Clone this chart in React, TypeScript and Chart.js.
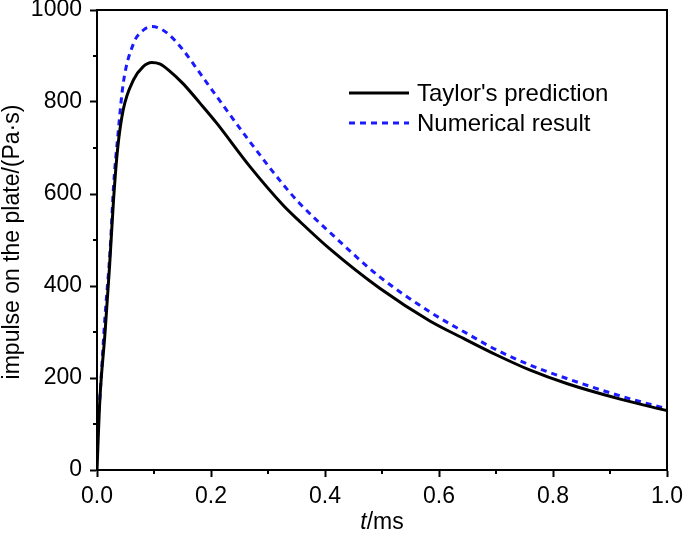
import React, { useEffect, useRef } from "react";
import { Chart, registerables } from "chart.js";

Chart.register(...registerables);

const taylorT = [0, 0.005, 0.014, 0.022, 0.029, 0.036, 0.046, 0.064, 0.081, 0.096, 0.11, 0.125, 0.151, 0.181, 0.21, 0.268, 0.327, 0.356, 0.409, 0.496, 0.584, 0.643, 0.701, 0.76, 0.824, 0.918, 1.0];
const taylorV = [0, 152, 297, 442, 587, 696, 783, 848, 877, 886, 883, 870, 840, 797, 754, 660, 575, 540, 480, 395, 324, 286, 250, 217, 188, 154, 129];

const numT = [0.001, 0.003, 0.014, 0.023, 0.029, 0.037, 0.046, 0.064, 0.081, 0.096, 0.11, 0.125, 0.151, 0.181, 0.21, 0.268, 0.327, 0.356, 0.409, 0.496, 0.59, 0.643, 0.701, 0.76, 0.824, 0.918, 1.0];
const numV = [105, 125, 333, 478, 616, 732, 840, 927, 956, 964, 960, 948, 913, 862, 812, 714, 620, 579, 516, 420, 339, 301, 261, 228, 199, 161, 133];

const seriesLabels = ["Taylor's prediction", "Numerical result"];
const xMinorTicks = [0.1, 0.3, 0.5, 0.7, 0.9];
const yMinorTicks = [100, 300, 500, 700, 900];
const yTitle = "impulse on the plate/(Pa·s)";

const FONT = "'Liberation Sans', Arial, sans-serif";

const decorPlugin = {
  id: "decor",
  afterDraw(chart: any) {
    const { ctx, chartArea } = chart;
    const xs = chart.scales.x;
    const ys = chart.scales.y;
    ctx.save();
    // frame
    ctx.strokeStyle = "#000";
    ctx.lineWidth = 2;
    ctx.strokeRect(chartArea.left, chartArea.top, chartArea.right - chartArea.left, chartArea.bottom - chartArea.top);
    // minor ticks
    ctx.beginPath();
    xMinorTicks.forEach((v) => {
      const px = Math.round(xs.getPixelForValue(v));
      ctx.moveTo(px, chartArea.bottom);
      ctx.lineTo(px, chartArea.bottom + 4);
    });
    yMinorTicks.forEach((v) => {
      const py = Math.round(ys.getPixelForValue(v));
      ctx.moveTo(chartArea.left - 4, py);
      ctx.lineTo(chartArea.left, py);
    });
    ctx.stroke();

    // y title
    ctx.fillStyle = "#000";
    ctx.font = `23px ${FONT}`;
    ctx.textAlign = "center";
    ctx.textBaseline = "middle";
    ctx.save();
    ctx.translate(13, 242);
    ctx.rotate(-Math.PI / 2);
    ctx.fillText(yTitle, 0, 0);
    ctx.restore();

    // x title: italic t + /ms
    const cx = (chartArea.left + chartArea.right) / 2;
    ctx.font = `italic 23px ${FONT}`;
    const w1 = ctx.measureText("t").width;
    ctx.font = `23px ${FONT}`;
    const w2 = ctx.measureText("/ms").width;
    const start = cx - (w1 + w2) / 2;
    ctx.textAlign = "left";
    ctx.textBaseline = "alphabetic";
    ctx.font = `italic 23px ${FONT}`;
    ctx.fillText("t", start, 529);
    ctx.font = `23px ${FONT}`;
    ctx.fillText("/ms", start + w1, 529);

    // legend
    const ds = chart.data.datasets;
    const rows = [93, 123];
    ds.forEach((d: any, i: number) => {
      const y = rows[i];
      ctx.strokeStyle = d.borderColor;
      ctx.lineWidth = 3;
      ctx.setLineDash(d.borderDash || []);
      ctx.beginPath();
      ctx.moveTo(349, y);
      ctx.lineTo(409, y);
      ctx.stroke();
      ctx.setLineDash([]);
      ctx.fillStyle = "#000";
      ctx.font = `24px ${FONT}`;
      ctx.textAlign = "left";
      ctx.textBaseline = "middle";
      ctx.fillText(d.label, 417, y + 1);
    });
    ctx.restore();
  },
};

export default function App() {
  const ref = useRef<HTMLCanvasElement | null>(null);
  useEffect(() => {
    if (!ref.current) return;
    const chart = new Chart(ref.current, {
      type: "line",
      data: {
        datasets: [
          {
            label: seriesLabels[0],
            data: taylorT.map((t, i) => ({ x: t, y: taylorV[i] })),
            borderColor: "#000000",
            borderWidth: 3,
            pointRadius: 0,
            cubicInterpolationMode: "monotone",
            fill: false,
          },
          {
            label: seriesLabels[1],
            data: numT.map((t, i) => ({ x: t, y: numV[i] })),
            borderColor: "#1a1aff",
            borderWidth: 3,
            borderDash: [6, 5],
            pointRadius: 0,
            cubicInterpolationMode: "monotone",
            fill: false,
          },
        ],
      },
      options: {
        responsive: false,
        animation: false,
        layout: { padding: { top: 10, right: 18, left: 0, bottom: 0 } },
        plugins: { legend: { display: false }, tooltip: { enabled: false } },
        scales: {
          x: {
            type: "linear",
            min: 0,
            max: 1,
            border: { display: true, color: "#000", width: 2 },
            grid: { drawOnChartArea: false, tickLength: 7, tickWidth: 2, tickColor: "#000" },
            ticks: {
              stepSize: 0.2,
              color: "#000",
              font: { family: FONT, size: 23 },
              padding: 6,
              maxRotation: 0,
              callback: (v: any) => Number(v).toFixed(1),
            },
            afterFit: (s: any) => {
              s.height = 65;
              s.paddingLeft = 0;
              s.paddingRight = 0;
            },
          },
          y: {
            type: "linear",
            min: 0,
            max: 1000,
            border: { display: true, color: "#000", width: 2 },
            grid: { drawOnChartArea: false, tickLength: 7, tickWidth: 2, tickColor: "#000" },
            ticks: {
              stepSize: 200,
              color: "#000",
              font: { family: FONT, size: 23 },
              padding: 8,
              callback: (v: any) => String(v),
            },
            afterFit: (s: any) => {
              s.width = 97;
              s.paddingTop = 0;
              s.paddingBottom = 0;
            },
          },
        },
      },
      plugins: [decorPlugin],
    });
    return () => chart.destroy();
  }, []);
  return (
    <div style={{ position: "fixed", left: 0, top: 0, width: 685, height: 535, background: "#fff" }}>
      <canvas ref={ref} width={685} height={535} />
    </div>
  );
}
